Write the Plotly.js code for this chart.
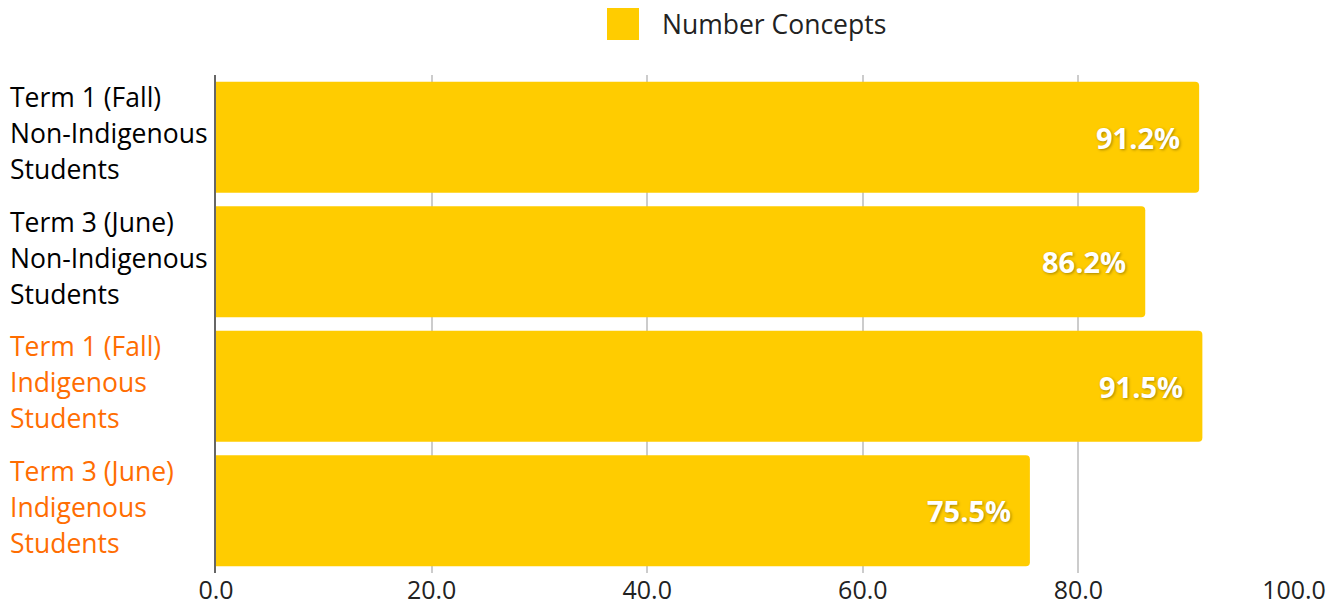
<!DOCTYPE html>
<html>
<head>
<meta charset="utf-8">
<script src="https://cdn.plot.ly/plotly-3.0.1.min.js"></script>
<style>html,body{margin:0;padding:0;background:#fff;}#chart{width:1339px;height:607px;}</style>
</head>
<body>
<div id="chart"></div>
<script>
// Data
var categories = [
  "Term 1 (Fall)<br>Non-Indigenous<br>Students",
  "Term 3 (June)<br>Non-Indigenous<br>Students",
  "Term 1 (Fall)<br>Indigenous<br>Students",
  "Term 3 (June)<br>Indigenous<br>Students"
];
var labelColors = ["#000000", "#000000", "#ff6d01", "#ff6d01"];
var values = [91.2, 86.2, 91.5, 75.5];
var seriesName = "Number Concepts";
var xTickVals = [0, 20, 40, 60, 80, 100];
var xTickText = ["0.0", "20.0", "40.0", "60.0", "80.0", "100.0"];

var FONT = "Open Sans, sans-serif";
var barColor = "#ffcc00";

var trace = {
  type: "bar",
  orientation: "h",
  name: seriesName,
  x: values,
  y: categories,
  marker: {color: barColor},
  hoverinfo: "x+y",
  showlegend: false
};

var annotations = [];
// category labels, one line per annotation, left-aligned
categories.forEach(function (c, i) {
  var lines = c.split("<br>");
  lines.forEach(function (ln, j) {
    annotations.push({
      xref: "paper", yref: "y",
      x: -208 / 1078, y: c,
      xanchor: "left", yanchor: "middle",
      yshift: -((j - 1) * 36 - 4),
      text: ln, showarrow: false,
      font: {family: FONT, size: 26.5, color: labelColors[i]}
    });
  });
});
// value labels inside bar end
values.forEach(function (v, i) {
  annotations.push({
    xref: "x", yref: "y",
    x: v, y: categories[i],
    xanchor: "right", yanchor: "middle",
    xshift: -17,
    text: v.toFixed(1) + "%", showarrow: false,
    font: {family: FONT, size: 29, color: "#ffffff", weight: 700,
           shadow: "1px 1px 3px rgba(0,0,0,0.35)"}
  });
});
// legend text
annotations.push({
  xref: "paper", yref: "paper",
  x: (660 - 216) / 1078, y: (573 - 24) / 498,
  xanchor: "left", yanchor: "middle",
  text: seriesName, showarrow: false,
  font: {family: FONT, size: 26.5, color: "#222222"}
});

var layout = {
  width: 1339, height: 607,
  margin: {l: 216, r: 45, t: 75, b: 34, pad: 0},
  paper_bgcolor: "#ffffff", plot_bgcolor: "#ffffff",
  font: {family: FONT, size: 25, color: "#222222"},
  bargap: 0.11,
  barcornerradius: 4,
  showlegend: false,
  xaxis: {
    range: [0, 100],
    tickvals: xTickVals, ticktext: xTickText,
    showgrid: true, gridcolor: "#cccccc", gridwidth: 2,
    zeroline: false, showline: false, ticks: "",
    tickfont: {family: FONT, size: 25, color: "#222222"},
    fixedrange: true
  },
  yaxis: {
    autorange: "reversed",
    showticklabels: false, ticks: "",
    showline: true, linecolor: "#666666", linewidth: 2,
    showgrid: false, zeroline: false,
    fixedrange: true
  },
  shapes: [{
    type: "rect", xref: "paper", yref: "paper",
    xsizemode: "pixel", ysizemode: "pixel",
    xanchor: (623 - 216) / 1078, yanchor: (573 - 24) / 498,
    x0: -16, x1: 16, y0: -16, y1: 16,
    fillcolor: barColor, line: {width: 0}
  }],
  annotations: annotations
};

Plotly.newPlot("chart", [trace], layout, {displayModeBar: false, staticPlot: true});
</script>
</body>
</html>
